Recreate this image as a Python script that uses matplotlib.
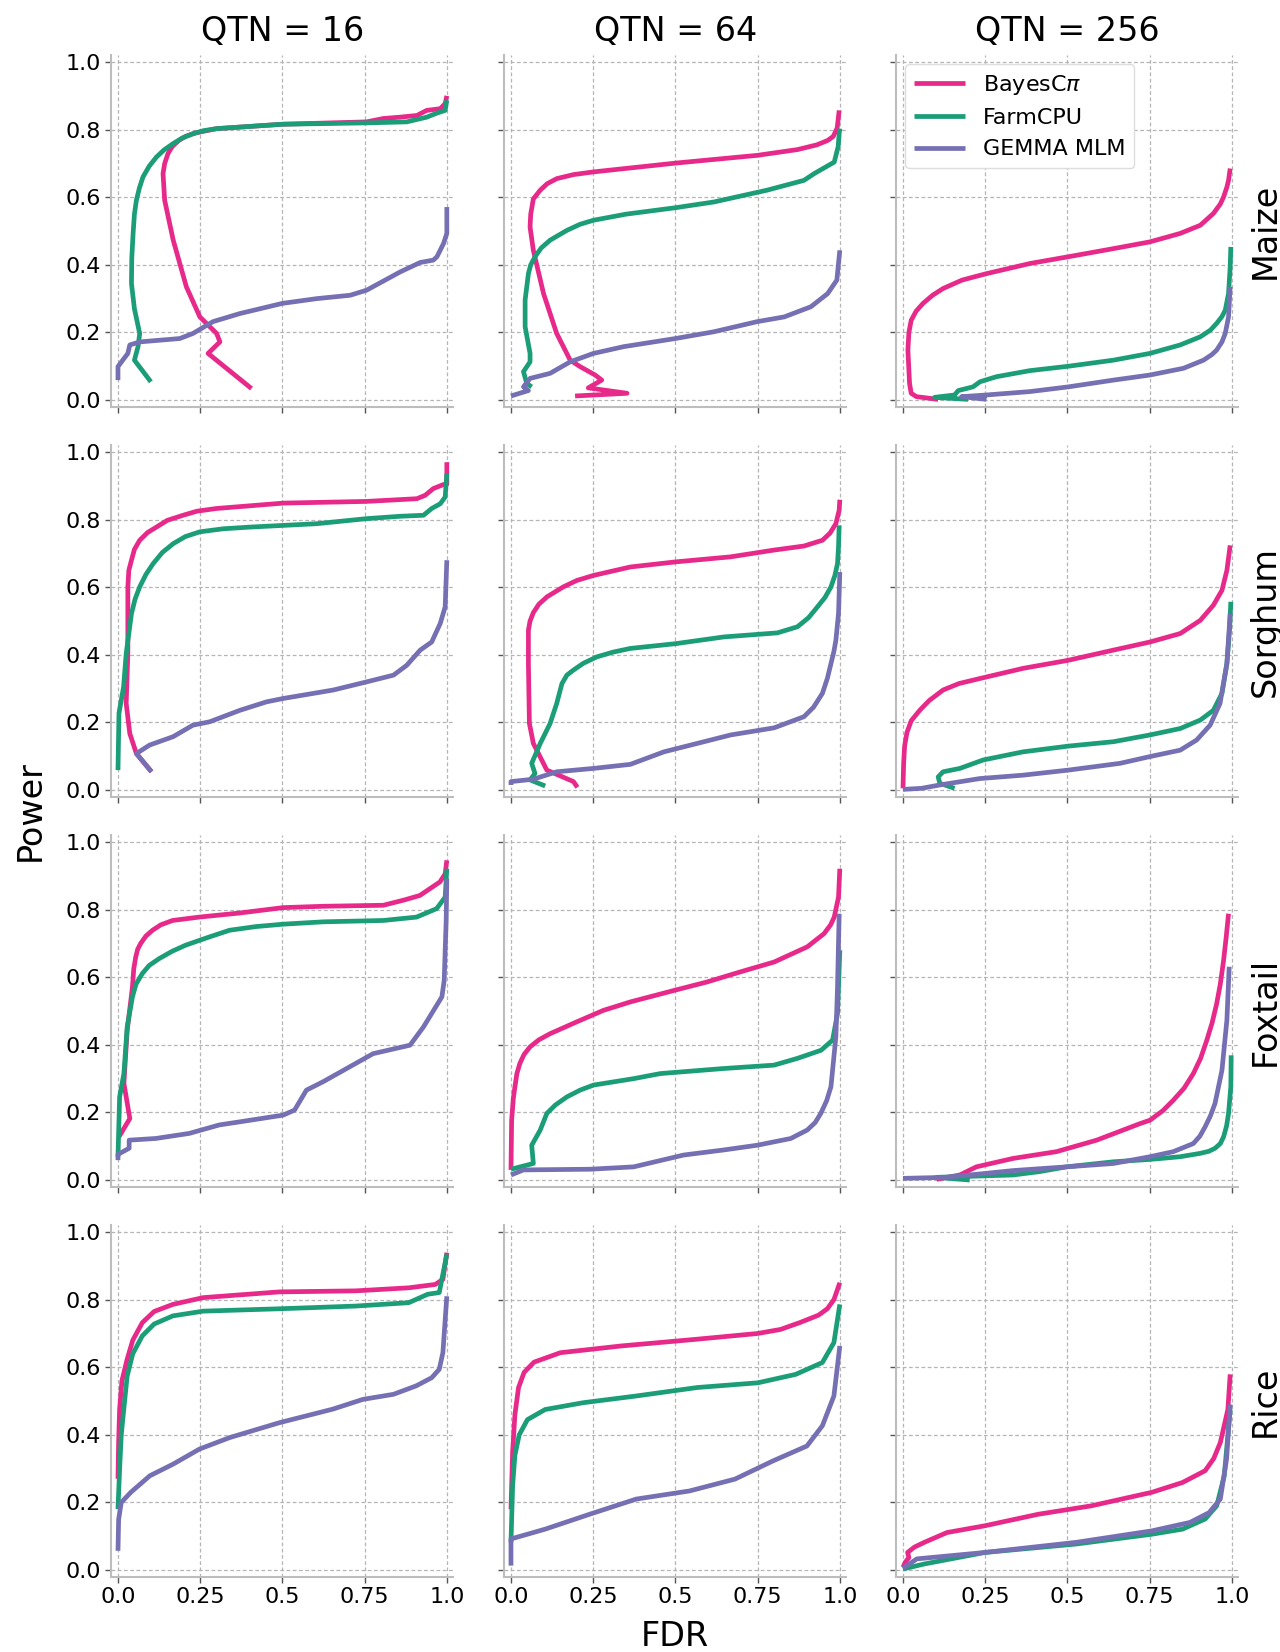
import matplotlib
matplotlib.use("Agg")
import matplotlib.pyplot as plt

# FDR / power curves, one list of (FDR, Power) per method and panel
species = ["Maize", "Sorghum", "Foxtail", "Rice"]
qtn_counts = [16, 64, 256]
methods = ["BayesC$\\pi$", "FarmCPU", "GEMMA MLM"]
colors = ["#e7298a", "#1b9e77", "#7570b3"]

# ---- Maize ----
maize_16_bayes = [(0.406, 0.034), (0.274, 0.138), (0.31, 0.172), (0.30, 0.197), (0.249, 0.246),
                  (0.208, 0.335), (0.168, 0.473), (0.142, 0.591), (0.137, 0.67), (0.142, 0.70),
                  (0.152, 0.729), (0.165, 0.75), (0.185, 0.768), (0.205, 0.78), (0.235, 0.79),
                  (0.30, 0.803), (0.50, 0.816), (0.756, 0.823), (0.807, 0.833), (0.858, 0.837),
                  (0.909, 0.842), (0.939, 0.857), (0.98, 0.862), (0.995, 0.877), (1.0, 0.90)]
maize_16_farm = [(0.10, 0.054), (0.05, 0.118), (0.061, 0.158), (0.066, 0.197), (0.05, 0.27),
                 (0.041, 0.345), (0.042, 0.42), (0.046, 0.493), (0.05, 0.55), (0.056, 0.591),
                 (0.065, 0.627), (0.076, 0.66), (0.095, 0.692), (0.117, 0.719), (0.14, 0.74),
                 (0.168, 0.759), (0.195, 0.775), (0.228, 0.788), (0.26, 0.797), (0.30, 0.803),
                 (0.50, 0.816), (0.756, 0.82), (0.878, 0.823), (0.939, 0.837), (0.97, 0.849),
                 (0.995, 0.857), (1.0, 0.887)]
maize_16_gemma = [(0.0, 0.059), (0.0, 0.099), (0.03, 0.138), (0.036, 0.163), (0.066, 0.172),
                  (0.188, 0.182), (0.228, 0.197), (0.289, 0.232), (0.371, 0.256), (0.50, 0.286),
                  (0.604, 0.30), (0.706, 0.31), (0.756, 0.325), (0.858, 0.379), (0.919, 0.407),
                  (0.959, 0.414), (0.97, 0.424), (0.99, 0.463), (1.0, 0.493), (1.0, 0.571)]

maize_64_bayes = [(0.195, 0.012), (0.353, 0.02), (0.235, 0.036), (0.276, 0.059), (0.256, 0.074),
                  (0.21, 0.099), (0.18, 0.118), (0.139, 0.197), (0.099, 0.315), (0.068, 0.443),
                  (0.058, 0.512), (0.06, 0.55), (0.068, 0.595), (0.089, 0.621), (0.11, 0.64),
                  (0.139, 0.655), (0.19, 0.667), (0.251, 0.675), (0.50, 0.701), (0.749, 0.724),
                  (0.871, 0.741), (0.93, 0.755), (0.963, 0.768), (0.98, 0.78), (0.992, 0.805),
                  (0.998, 0.857)]
maize_64_farm = [(0.063, 0.039), (0.048, 0.049), (0.038, 0.084), (0.058, 0.113), (0.058, 0.138),
                 (0.043, 0.217), (0.043, 0.296), (0.053, 0.374), (0.06, 0.40), (0.073, 0.424),
                 (0.092, 0.45), (0.119, 0.473), (0.17, 0.502), (0.21, 0.52), (0.251, 0.532),
                 (0.35, 0.55), (0.50, 0.569), (0.617, 0.586), (0.779, 0.621), (0.891, 0.65),
                 (0.922, 0.67), (0.983, 0.704), (0.995, 0.75), (0.998, 0.788), (1.0, 0.803)]
maize_64_gemma = [(0.0, 0.012), (0.053, 0.028), (0.038, 0.039), (0.058, 0.064), (0.119, 0.079),
                  (0.18, 0.113), (0.251, 0.138), (0.343, 0.158), (0.50, 0.182), (0.617, 0.202),
                  (0.749, 0.232), (0.831, 0.246), (0.912, 0.276), (0.963, 0.315), (0.991, 0.355),
                  (1.0, 0.443)]

maize_256_bayes = [(0.107, 0.002), (0.041, 0.01), (0.025, 0.02), (0.02, 0.049), (0.015, 0.148),
                   (0.018, 0.20), (0.025, 0.236), (0.04, 0.263), (0.061, 0.286), (0.09, 0.31),
                   (0.122, 0.33), (0.18, 0.355), (0.254, 0.374), (0.386, 0.404), (0.503, 0.424),
                   (0.64, 0.448), (0.751, 0.468), (0.843, 0.493), (0.904, 0.517), (0.944, 0.552),
                   (0.965, 0.58), (0.975, 0.601), (0.985, 0.63), (0.99, 0.65), (0.995, 0.685)]
maize_256_farm = [(0.198, 0.002), (0.096, 0.008), (0.157, 0.015), (0.168, 0.028), (0.213, 0.039),
                  (0.234, 0.054), (0.284, 0.069), (0.386, 0.087), (0.503, 0.10), (0.64, 0.118),
                  (0.751, 0.138), (0.843, 0.163), (0.904, 0.187), (0.935, 0.207), (0.954, 0.227),
                  (0.97, 0.247), (0.98, 0.266), (0.99, 0.315), (0.995, 0.394), (0.997, 0.453)]
maize_256_gemma = [(0.254, 0.002), (0.178, 0.01), (0.254, 0.015), (0.386, 0.025), (0.503, 0.039),
                   (0.64, 0.059), (0.751, 0.074), (0.853, 0.094), (0.914, 0.118), (0.94, 0.135),
                   (0.954, 0.148), (0.97, 0.172), (0.98, 0.197), (0.99, 0.246), (0.995, 0.335)]

# ---- Sorghum ----
sorghum_16_bayes = [(0.102, 0.054), (0.056, 0.108), (0.036, 0.167), (0.025, 0.256), (0.03, 0.404),
                    (0.03, 0.601), (0.033, 0.65), (0.041, 0.68), (0.05, 0.712), (0.066, 0.739),
                    (0.09, 0.762), (0.117, 0.778), (0.15, 0.798), (0.198, 0.813), (0.24, 0.825),
                    (0.299, 0.833), (0.503, 0.849), (0.756, 0.854), (0.909, 0.862), (0.934, 0.872),
                    (0.959, 0.892), (0.99, 0.904), (1.0, 0.905), (1.0, 0.97)]
sorghum_16_farm = [(0.0, 0.059), (0.003, 0.227), (0.017, 0.305), (0.025, 0.404), (0.041, 0.522),
                   (0.052, 0.565), (0.066, 0.601), (0.085, 0.638), (0.107, 0.67), (0.135, 0.703),
                   (0.168, 0.729), (0.205, 0.75), (0.249, 0.764), (0.32, 0.773), (0.401, 0.778),
                   (0.503, 0.783), (0.604, 0.788), (0.756, 0.803), (0.858, 0.81), (0.929, 0.813),
                   (0.954, 0.833), (0.98, 0.847), (0.995, 0.867), (1.0, 0.936)]
sorghum_16_gemma = [(0.102, 0.054), (0.056, 0.108), (0.096, 0.133), (0.168, 0.158), (0.228, 0.192),
                    (0.279, 0.202), (0.371, 0.236), (0.452, 0.261), (0.503, 0.271), (0.655, 0.296),
                    (0.756, 0.32), (0.838, 0.34), (0.878, 0.369), (0.919, 0.414), (0.954, 0.438),
                    (0.98, 0.493), (0.995, 0.542), (1.0, 0.68)]

sorghum_64_bayes = [(0.202, 0.008), (0.19, 0.025), (0.109, 0.059), (0.068, 0.138), (0.056, 0.197),
                    (0.053, 0.374), (0.053, 0.473), (0.058, 0.50), (0.068, 0.525), (0.085, 0.55),
                    (0.11, 0.572), (0.159, 0.601), (0.20, 0.62), (0.251, 0.635), (0.363, 0.66),
                    (0.50, 0.675), (0.668, 0.69), (0.80, 0.71), (0.891, 0.722), (0.947, 0.739),
                    (0.97, 0.76), (0.988, 0.788), (0.998, 0.828), (1.0, 0.859)]
sorghum_64_farm = [(0.104, 0.012), (0.058, 0.03), (0.073, 0.049), (0.063, 0.079), (0.089, 0.138),
                   (0.119, 0.197), (0.139, 0.256), (0.155, 0.315), (0.17, 0.34), (0.19, 0.355),
                   (0.22, 0.375), (0.261, 0.394), (0.31, 0.408), (0.363, 0.419), (0.50, 0.433),
                   (0.647, 0.453), (0.81, 0.465), (0.871, 0.483), (0.905, 0.51), (0.932, 0.542),
                   (0.955, 0.57), (0.973, 0.601), (0.985, 0.635), (0.993, 0.67), (0.996, 0.72),
                   (0.998, 0.783)]
sorghum_64_gemma = [(0.0, 0.015), (0.0, 0.025), (0.068, 0.032), (0.139, 0.054), (0.251, 0.064),
                    (0.363, 0.076), (0.465, 0.113), (0.587, 0.143), (0.668, 0.163), (0.80, 0.184),
                    (0.891, 0.217), (0.92, 0.245), (0.947, 0.286), (0.962, 0.33), (0.973, 0.374),
                    (0.982, 0.41), (0.988, 0.443), (0.996, 0.522), (1.0, 0.645)]

sorghum_256_bayes = [(0.0, 0.005), (0.002, 0.079), (0.005, 0.13), (0.012, 0.17), (0.025, 0.205),
                     (0.051, 0.236), (0.08, 0.265), (0.122, 0.296), (0.17, 0.315), (0.234, 0.33),
                     (0.365, 0.36), (0.503, 0.384), (0.64, 0.414), (0.751, 0.438), (0.843, 0.463),
                     (0.904, 0.502), (0.944, 0.547), (0.97, 0.591), (0.985, 0.65), (0.995, 0.724)]
sorghum_256_farm = [(0.157, 0.005), (0.112, 0.02), (0.107, 0.039), (0.122, 0.054), (0.173, 0.064),
                    (0.244, 0.089), (0.365, 0.113), (0.503, 0.13), (0.64, 0.143), (0.751, 0.163),
                    (0.843, 0.182), (0.904, 0.207), (0.944, 0.236), (0.97, 0.286), (0.985, 0.374),
                    (0.993, 0.473), (0.997, 0.557)]
sorghum_256_gemma = [(0.0, 0.002), (0.056, 0.005), (0.112, 0.015), (0.234, 0.034), (0.365, 0.044),
                     (0.503, 0.059), (0.66, 0.079), (0.751, 0.099), (0.843, 0.118), (0.893, 0.148),
                     (0.934, 0.192), (0.964, 0.256), (0.985, 0.374), (0.995, 0.522)]

# ---- Foxtail ----
foxtail_16_bayes = [(0.003, 0.128), (0.036, 0.182), (0.018, 0.286), (0.028, 0.443), (0.044, 0.571),
                    (0.048, 0.625), (0.054, 0.66), (0.06, 0.683), (0.069, 0.70), (0.085, 0.722),
                    (0.105, 0.739), (0.13, 0.755), (0.166, 0.768), (0.247, 0.778), (0.369, 0.79),
                    (0.502, 0.806), (0.624, 0.81), (0.807, 0.813), (0.868, 0.828), (0.918, 0.842),
                    (0.979, 0.882), (0.995, 0.906), (1.0, 0.946)]
foxtail_16_farm = [(0.0, 0.069), (0.005, 0.246), (0.018, 0.315), (0.028, 0.453), (0.044, 0.542),
                   (0.055, 0.58), (0.074, 0.611), (0.095, 0.635), (0.125, 0.655), (0.165, 0.677),
                   (0.206, 0.695), (0.277, 0.719), (0.339, 0.739), (0.42, 0.75), (0.502, 0.757),
                   (0.624, 0.764), (0.807, 0.768), (0.908, 0.778), (0.969, 0.803), (0.995, 0.837),
                   (1.0, 0.921)]
foxtail_16_gemma = [(0.0, 0.059), (0.0, 0.076), (0.034, 0.094), (0.034, 0.118), (0.115, 0.123),
                    (0.217, 0.138), (0.308, 0.163), (0.369, 0.172), (0.502, 0.192), (0.537, 0.207),
                    (0.573, 0.266), (0.624, 0.291), (0.776, 0.374), (0.888, 0.399), (0.929, 0.453),
                    (0.985, 0.542), (0.992, 0.591), (0.998, 0.768), (1.0, 0.892)]

foxtail_64_bayes = [(0.0, 0.03), (0.002, 0.177), (0.007, 0.24), (0.012, 0.276), (0.018, 0.315),
                    (0.027, 0.345), (0.04, 0.372), (0.058, 0.394), (0.085, 0.415), (0.119, 0.433),
                    (0.20, 0.468), (0.281, 0.502), (0.363, 0.527), (0.50, 0.562), (0.596, 0.586),
                    (0.698, 0.616), (0.80, 0.645), (0.901, 0.69), (0.952, 0.729), (0.972, 0.755),
                    (0.983, 0.778), (0.996, 0.837), (1.0, 0.921)]
foxtail_64_farm = [(0.0, 0.032), (0.068, 0.049), (0.063, 0.103), (0.089, 0.148), (0.109, 0.197),
                   (0.135, 0.222), (0.17, 0.246), (0.21, 0.266), (0.251, 0.281), (0.373, 0.30),
                   (0.454, 0.315), (0.647, 0.33), (0.80, 0.34), (0.871, 0.36), (0.943, 0.384),
                   (0.978, 0.414), (0.993, 0.493), (1.0, 0.68)]
foxtail_64_gemma = [(0.0, 0.015), (0.038, 0.03), (0.241, 0.032), (0.373, 0.039), (0.525, 0.074),
                    (0.647, 0.089), (0.749, 0.103), (0.851, 0.123), (0.901, 0.148), (0.925, 0.17),
                    (0.942, 0.197), (0.96, 0.235), (0.973, 0.276), (0.988, 0.424), (0.993, 0.571),
                    (0.998, 0.788)]

foxtail_256_bayes = [(0.102, 0.002), (0.173, 0.015), (0.223, 0.039), (0.335, 0.064), (0.467, 0.084),
                     (0.589, 0.118), (0.721, 0.167), (0.751, 0.177), (0.79, 0.205), (0.822, 0.236),
                     (0.855, 0.272), (0.883, 0.315), (0.905, 0.36), (0.924, 0.414), (0.94, 0.465),
                     (0.954, 0.522), (0.965, 0.58), (0.975, 0.65), (0.983, 0.72), (0.99, 0.788)]
foxtail_256_farm = [(0.203, 0.0), (0.102, 0.008), (0.335, 0.015), (0.416, 0.025), (0.497, 0.039),
                    (0.64, 0.054), (0.751, 0.061), (0.843, 0.069), (0.904, 0.079), (0.93, 0.085),
                    (0.949, 0.094), (0.965, 0.108), (0.975, 0.128), (0.984, 0.16), (0.99, 0.197),
                    (0.997, 0.276), (0.998, 0.369)]
foxtail_256_gemma = [(0.0, 0.005), (0.132, 0.008), (0.335, 0.028), (0.497, 0.039), (0.64, 0.049),
                     (0.751, 0.069), (0.822, 0.084), (0.883, 0.108), (0.903, 0.13), (0.919, 0.158),
                     (0.935, 0.19), (0.949, 0.227), (0.97, 0.325), (0.985, 0.473), (0.992, 0.631)]

# ---- Rice ----
rice_16_bayes = [(0.0, 0.27), (0.002, 0.38), (0.005, 0.476), (0.012, 0.56), (0.028, 0.624),
                 (0.045, 0.68), (0.074, 0.732), (0.11, 0.765), (0.167, 0.786), (0.259, 0.806),
                 (0.491, 0.823), (0.722, 0.826), (0.884, 0.835), (0.965, 0.845), (0.988, 0.86),
                 (1.0, 0.939)]
rice_16_farm = [(0.0, 0.18), (0.005, 0.30), (0.01, 0.40), (0.016, 0.46), (0.028, 0.574),
                (0.045, 0.64), (0.074, 0.693), (0.11, 0.728), (0.167, 0.752), (0.259, 0.766),
                (0.491, 0.773), (0.722, 0.781), (0.884, 0.791), (0.942, 0.816), (0.977, 0.821),
                (1.0, 0.934)]
rice_16_gemma = [(0.0, 0.057), (0.002, 0.15), (0.01, 0.20), (0.039, 0.23), (0.097, 0.279),
                 (0.167, 0.313), (0.248, 0.358), (0.34, 0.392), (0.491, 0.436), (0.653, 0.476),
                 (0.745, 0.505), (0.838, 0.52), (0.907, 0.545), (0.954, 0.569), (0.977, 0.594),
                 (0.988, 0.643), (1.0, 0.81)]

rice_64_bayes = [(0.0, 0.18), (0.005, 0.35), (0.012, 0.46), (0.023, 0.54), (0.04, 0.585),
                 (0.07, 0.615), (0.15, 0.643), (0.335, 0.663), (0.566, 0.683), (0.751, 0.70),
                 (0.82, 0.712), (0.878, 0.732), (0.935, 0.754), (0.962, 0.773), (0.982, 0.80),
                 (1.0, 0.85)]
rice_64_farm = [(0.0, 0.082), (0.005, 0.25), (0.012, 0.34), (0.025, 0.40), (0.05, 0.445),
                (0.104, 0.475), (0.219, 0.495), (0.381, 0.515), (0.566, 0.54), (0.751, 0.554),
                (0.866, 0.579), (0.947, 0.614), (0.982, 0.673), (1.0, 0.786)]
rice_64_gemma = [(0.0, 0.013), (0.0, 0.092), (0.104, 0.121), (0.242, 0.166), (0.381, 0.21),
                 (0.543, 0.234), (0.681, 0.269), (0.797, 0.323), (0.90, 0.367), (0.947, 0.427),
                 (0.982, 0.515), (1.0, 0.663)]

rice_256_bayes = [(0.0, 0.008), (0.007, 0.023), (0.018, 0.037), (0.014, 0.052), (0.035, 0.068),
                  (0.065, 0.082), (0.134, 0.111), (0.249, 0.131), (0.411, 0.165), (0.573, 0.19),
                  (0.757, 0.23), (0.85, 0.259), (0.919, 0.294), (0.945, 0.33), (0.965, 0.377),
                  (0.988, 0.475), (0.995, 0.579)]
rice_256_farm = [(0.0, 0.003), (0.065, 0.018), (0.249, 0.052), (0.527, 0.077), (0.757, 0.106),
                 (0.85, 0.121), (0.919, 0.151), (0.954, 0.19), (0.977, 0.279), (0.995, 0.475)]
rice_256_gemma = [(0.0, 0.005), (0.042, 0.033), (0.249, 0.052), (0.527, 0.082), (0.757, 0.116),
                  (0.873, 0.141), (0.931, 0.17), (0.965, 0.21), (0.984, 0.328), (0.995, 0.49)]

panels = [
    [(maize_16_bayes, maize_16_farm, maize_16_gemma),
     (maize_64_bayes, maize_64_farm, maize_64_gemma),
     (maize_256_bayes, maize_256_farm, maize_256_gemma)],
    [(sorghum_16_bayes, sorghum_16_farm, sorghum_16_gemma),
     (sorghum_64_bayes, sorghum_64_farm, sorghum_64_gemma),
     (sorghum_256_bayes, sorghum_256_farm, sorghum_256_gemma)],
    [(foxtail_16_bayes, foxtail_16_farm, foxtail_16_gemma),
     (foxtail_64_bayes, foxtail_64_farm, foxtail_64_gemma),
     (foxtail_256_bayes, foxtail_256_farm, foxtail_256_gemma)],
    [(rice_16_bayes, rice_16_farm, rice_16_gemma),
     (rice_64_bayes, rice_64_farm, rice_64_gemma),
     (rice_256_bayes, rice_256_farm, rice_256_gemma)],
]

x_ticks = [0.0, 0.25, 0.5, 0.75, 1.0]
x_ticklabels = ["0.0", "0.25", "0.5", "0.75", "1.0"]
y_ticks = [0.0, 0.2, 0.4, 0.6, 0.8, 1.0]

W, H = 1280, 1652
fig = plt.figure(figsize=(W / 100, H / 100), dpi=100)

col_left = [111.4, 504.4, 896.4]
row_zero = [400, 790, 1180, 1570]
ax_w, ax_h = 342, 351.5

for r in range(4):
    for c in range(3):
        left = col_left[c] / W
        bottom = 1 - (row_zero[r] + 6.8) / H
        ax = fig.add_axes([left, bottom, ax_w / W, ax_h / H])
        for curve, color, label in zip(panels[r][c], colors, methods):
            xs = [p[0] for p in curve]
            ys = [p[1] for p in curve]
            ax.plot(xs, ys, color=color, lw=3.4, label=label, solid_joinstyle="round",
                    solid_capstyle="butt", zorder=3)
        ax.set_xlim(-0.02, 1.02)
        ax.set_ylim(-0.02, 1.02)
        ax.set_xticks(x_ticks)
        ax.set_yticks(y_ticks)
        ax.grid(True, color="#b5b5b5", linestyle=(0, (3, 2)), linewidth=0.9)
        ax.set_axisbelow(True)
        for s in ["top", "right"]:
            ax.spines[s].set_visible(False)
        for s in ["left", "bottom"]:
            ax.spines[s].set_color("#bdbdbd")
            ax.spines[s].set_linewidth(1.5)
        ax.tick_params(axis="both", length=4, width=1, color="#555555", labelsize=16)
        if r == 3:
            ax.set_xticklabels(x_ticklabels)
        else:
            ax.set_xticklabels([])
        if c == 0:
            ax.set_yticklabels([f"{v:.1f}" for v in y_ticks])
        else:
            ax.set_yticklabels([])
        if r == 0:
            ax.set_title(f"QTN = {qtn_counts[c]}", fontsize=24, pad=10)
        if c == 2:
            ax.text(1.03, 0.5, species[r], transform=ax.transAxes, rotation=90,
                    ha="left", va="center", fontsize=24)
        if r == 0 and c == 2:
            ax.legend(loc="upper left", fontsize=16, handlelength=2.3,
                      borderaxespad=0.4, framealpha=1, edgecolor="#dddddd")

fig.text(30 / W, 1 - 811 / H, "Power", rotation=90, ha="center", va="center", fontsize=24)
fig.text(675 / W, 1 - 1636 / H, "FDR", ha="center", va="center", fontsize=24)

fig.savefig("out.png", dpi=100)
